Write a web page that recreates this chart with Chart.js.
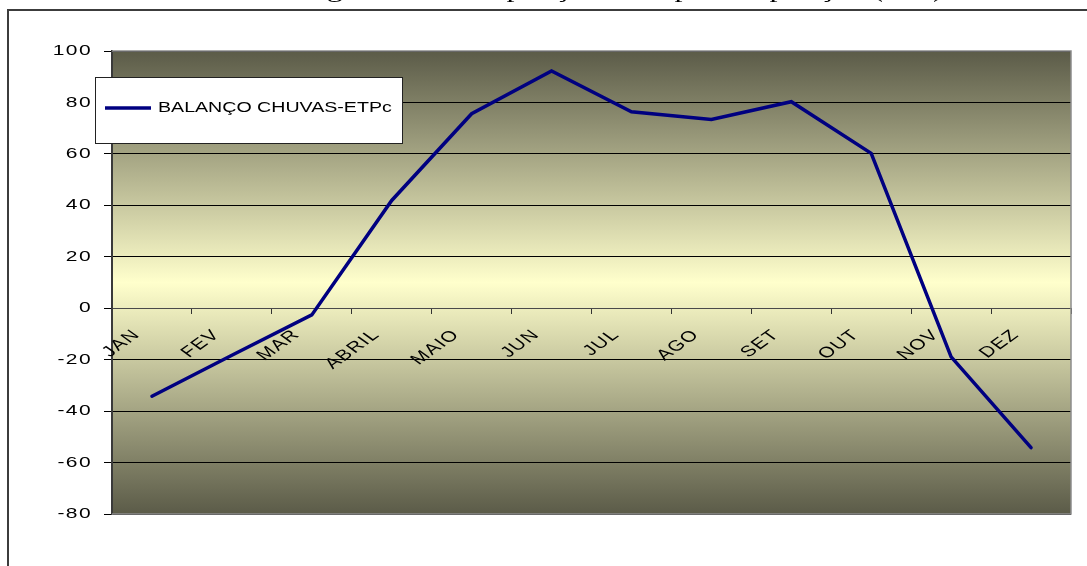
<!DOCTYPE html>
<html lang="pt-BR">
<head>
<meta charset="UTF-8">
<title>Balanço chuvas - ETPc</title>
<script src="https://cdn.jsdelivr.net/npm/chart.js@4.4.1/dist/chart.umd.min.js"></script>
<style>
  html, body { margin: 0; padding: 0; background: #fff; overflow: hidden; }
  canvas { display: block; }
</style>
</head>
<body>
<canvas id="balancoChart" width="1087" height="566"></canvas>
<script>
// Monthly rain minus crop evapotranspiration (mm)
const meses = ['JAN', 'FEV', 'MAR', 'ABRIL', 'MAIO', 'JUN', 'JUL', 'AGO', 'SET', 'OUT', 'NOV', 'DEZ'];
const balanco = [-34.2, -18.3, -2.6, 41.9, 75.6, 92.2, 76.4, 73.4, 80.3, 60.2, -18.9, -54.2];
const ticksY = [-80, -60, -40, -20, 0, 20, 40, 60, 80, 100];
const serieNome = 'BALANÇO CHUVAS-ETPc';
const tituloFigura = 'Figura 5 – Precipitação e evapotranspiração (mm)';

const LABEL_FONT = '15px "Liberation Sans", Arial, sans-serif';
const STRETCH = 1.4; // the old spreadsheet chart draws its text wide

// White page, caption and the olive/yellow plot background
const fundoPlugin = {
  id: 'fundo',
  beforeDraw(chart) {
    const { ctx, chartArea: a, width, height } = chart;
    ctx.save();
    ctx.fillStyle = '#fff';
    ctx.fillRect(0, 0, width, height);

    // caption sits above the frame, only its lowest strokes show
    ctx.save();
    ctx.font = '23px "Liberation Serif", "Times New Roman", serif';
    ctx.fillStyle = '#000';
    ctx.textAlign = 'left';
    ctx.textBaseline = 'alphabetic';
    ctx.translate(300, -3);
    ctx.scale(STRETCH, 1);
    ctx.fillText(tituloFigura, 0, 0);
    ctx.restore();

    const g = ctx.createLinearGradient(0, a.top, 0, a.bottom);
    g.addColorStop(0, '#5b5b48');
    g.addColorStop(0.5, '#ffffcc');
    g.addColorStop(1, '#5b5b48');
    ctx.fillStyle = g;
    ctx.fillRect(a.left, a.top, a.right - a.left, a.bottom - a.top);
    ctx.restore();
  }
};

// Axis labels, drawn under the line like the original
const rotulosPlugin = {
  id: 'rotulos',
  beforeDatasetsDraw(chart) {
    const { ctx, chartArea: a, scales: { x, y } } = chart;
    const zero = y.getPixelForValue(0);

    ctx.save();
    ctx.strokeStyle = '#8c8c8c';
    ctx.lineWidth = 1.5;
    ctx.beginPath();
    ctx.moveTo(a.left, a.top);
    ctx.lineTo(a.right, a.top);
    ctx.lineTo(a.right, a.bottom);
    ctx.lineTo(a.left, a.bottom);
    ctx.stroke();

    ctx.font = LABEL_FONT;
    ctx.fillStyle = '#000';
    ctx.letterSpacing = '1px';
    ctx.textAlign = 'right';
    ctx.textBaseline = 'alphabetic';
    x.ticks.forEach((t, i) => {
      ctx.save();
      ctx.translate(x.getPixelForTick(i) - 11, zero + 27);
      ctx.scale(STRETCH, 1);
      ctx.rotate(-Math.PI / 4);
      ctx.fillText(x.getLabelForValue(t.value), 0, 0);
      ctx.restore();
    });

    ctx.textBaseline = 'middle';
    y.ticks.forEach(t => {
      ctx.save();
      ctx.translate(y.right - 20, y.getPixelForValue(t.value));
      ctx.scale(STRETCH, 1);
      ctx.fillText(String(t.value), 0, 0);
      ctx.restore();
    });
    ctx.restore();
  }
};

// Boxed legend over the top left of the plot, plus the outer frame
const legendaPlugin = {
  id: 'legenda',
  afterDraw(chart) {
    const { ctx, width, height } = chart;
    const ds = chart.data.datasets[0];
    ctx.save();
    ctx.strokeStyle = '#3c3c3c';
    ctx.lineWidth = 2;
    ctx.beginPath();
    ctx.moveTo(8, height);
    ctx.lineTo(8, 10);
    ctx.lineTo(width, 10);
    ctx.stroke();

    ctx.fillStyle = '#fff';
    ctx.fillRect(95, 77, 307, 66);
    ctx.strokeStyle = '#222';
    ctx.lineWidth = 1;
    ctx.strokeRect(95.5, 77.5, 307, 66);

    ctx.strokeStyle = ds.borderColor;
    ctx.lineWidth = 3.5;
    ctx.beginPath();
    ctx.moveTo(105, 108);
    ctx.lineTo(151, 108);
    ctx.stroke();

    ctx.font = '14px "Liberation Sans", Arial, sans-serif';
    ctx.fillStyle = '#000';
    ctx.textBaseline = 'middle';
    ctx.translate(158, 108);
    ctx.scale(STRETCH, 1);
    ctx.fillText(ds.label, 0, 0);
    ctx.restore();
  }
};

document.addEventListener('DOMContentLoaded', function() {
  const ctx = document.getElementById('balancoChart').getContext('2d');
  new Chart(ctx, {
    type: 'line',
    data: {
      labels: meses,
      datasets: [{
        label: serieNome,
        data: balanco,
        borderColor: '#000080',
        borderWidth: 3.5,
        borderCapStyle: 'round',
        pointRadius: 0,
        tension: 0,
        fill: false
      }]
    },
    options: {
      responsive: false,
      animation: false,
      events: [],
      layout: {
        padding: { left: 0, right: 16, top: 51, bottom: 52 }
      },
      plugins: {
        legend: { display: false },
        tooltip: { enabled: false }
      },
      scales: {
        x: {
          position: { y: 0 },
          offset: true,
          grid: {
            offset: true,
            drawOnChartArea: false,
            drawTicks: true,
            tickLength: 5,
            tickColor: '#333'
          },
          border: { color: '#4a4a4a', width: 1 },
          ticks: { display: false }
        },
        y: {
          min: ticksY[0],
          max: ticksY[ticksY.length - 1],
          afterBuildTicks: function(scale) {
            scale.ticks = ticksY.map(v => ({ value: v }));
          },
          afterFit: function(scale) {
            scale.width = 112;
          },
          grid: {
            color: '#000',
            lineWidth: 1,
            tickLength: 8,
            tickColor: '#000'
          },
          border: { color: '#3a3a3a', width: 2 },
          ticks: { display: false }
        }
      }
    },
    plugins: [fundoPlugin, rotulosPlugin, legendaPlugin]
  });
});
</script>
</body>
</html>
